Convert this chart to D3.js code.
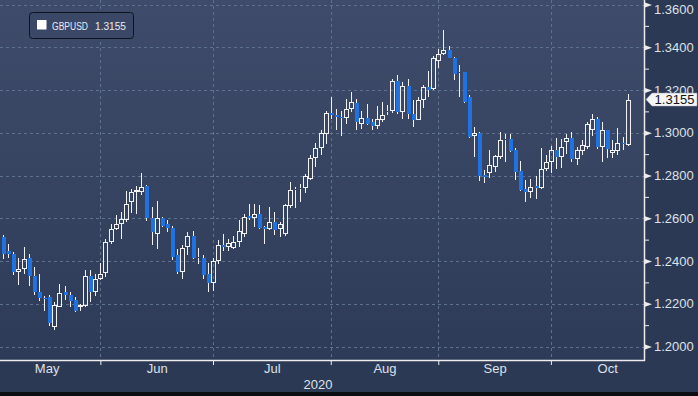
<!DOCTYPE html>
<html>
<head>
<meta charset="utf-8">
<title>GBPUSD</title>
<script src="https://cdn.jsdelivr.net/npm/d3@7"></script>
<style>
  body { margin: 0; background: #2c3955; }
  svg { display: block; font-family: "Liberation Sans", Arial, sans-serif; }
</style>
</head>
<body>
<svg id="chart" width="698" height="396"></svg>
<script>
// daily candles, 4 May 2020 -> 21 Oct 2020 (weekdays)
var startDate = new Date(2020, 4, 4), endDate = new Date(2020, 9, 21);

var open = [
  1.2512,1.2446,1.2434,1.2348,1.2361,1.2413,1.2332,1.2257,1.2226,1.2231,1.2090,1.2187,1.2254,1.2243,1.2218,1.2187,1.2189,1.2332,1.2255,1.2317,
  1.2343,1.2488,1.2551,1.2574,1.2590,1.2675,1.2722,1.2725,1.2749,1.2602,1.2524,1.2602,1.2571,1.2556,1.2426,1.2348,1.2465,1.2519,1.2413,1.2415,1.2340,1.2297,
  1.2402,1.2473,1.2465,1.2462,1.2488,1.2527,1.2610,1.2601,1.2621,1.2558,1.2551,1.2582,1.2551,1.2527,1.2655,1.2730,1.2735,1.2743,1.2785,1.2883,1.2930,1.2995,1.3094,
  1.3081,1.3076,1.3070,1.3112,1.3140,1.3042,1.3070,1.3050,1.3030,1.3061,1.3097,1.3101,1.3240,1.3097,1.3217,1.3086,1.3061,1.3151,1.3214,1.3206,1.3335,
  1.3370,1.3385,1.3352,1.3278,1.3282,1.3168,1.2983,1.3000,1.2804,1.2811,1.2842,1.2886,1.2964,1.2972,1.2921,1.2820,1.2735,1.2725,1.2750,1.2743,1.2832,1.2863,
  1.2921,1.2886,1.2956,1.2977,1.2875,1.2914,1.2933,1.3011,1.3066,1.2933,1.3011,1.2905,1.2914,1.2951,1.2945
];
var high = [
  1.2520,1.2481,1.2442,1.2414,1.2465,1.2434,1.2374,1.2340,1.2238,1.2239,1.2207,1.2293,1.2285,1.2254,1.2231,1.2200,1.2359,1.2356,1.2340,1.2390,
  1.2501,1.2574,1.2613,1.2629,1.2727,1.2738,1.2753,1.2813,1.2757,1.2652,1.2683,1.2605,1.2590,1.2566,1.2457,1.2473,1.2535,1.2540,1.2462,1.2426,1.2390,1.2415,
  1.2496,1.2527,1.2504,1.2519,1.2590,1.2621,1.2668,1.2668,1.2663,1.2566,1.2652,1.2629,1.2582,1.2668,1.2769,1.2745,1.2761,1.2805,1.2894,1.2951,1.3014,1.3101,1.3167,
  1.3112,1.3104,1.3159,1.3190,1.3159,1.3104,1.3133,1.3066,1.3123,1.3143,1.3128,1.3253,1.3268,1.3237,1.3253,1.3151,1.3167,1.3222,1.3288,1.3357,1.3393,
  1.3482,1.3405,1.3355,1.3319,1.3282,1.3176,1.3026,1.3003,1.2824,1.2917,1.2898,1.3003,1.2994,1.2994,1.2930,1.2867,1.2777,1.2785,1.2799,1.2930,1.2898,1.2940,
  1.2977,1.2973,1.2996,1.3003,1.2933,1.2967,1.3050,1.3086,1.3073,1.3050,1.3014,1.2964,1.3023,1.2980,1.3180
];
var low = [
  1.2411,1.2414,1.2333,1.2289,1.2340,1.2281,1.2239,1.2212,1.2164,1.2098,1.2075,1.2184,1.2218,1.2184,1.2161,1.2168,1.2184,1.2207,1.2234,1.2309,
  1.2324,1.2481,1.2543,1.2501,1.2582,1.2624,1.2618,1.2707,1.2585,1.2473,1.2457,1.2558,1.2535,1.2403,1.2340,1.2317,1.2426,1.2410,1.2387,1.2314,1.2257,1.2259,
  1.2387,1.2449,1.2449,1.2457,1.2465,1.2512,1.2590,1.2558,1.2551,1.2481,1.2543,1.2523,1.2512,1.2519,1.2649,1.2649,1.2675,1.2717,1.2777,1.2839,1.2894,1.2949,1.3066,
  1.3011,1.2987,1.3042,1.3097,1.3011,1.3019,1.3034,1.3011,1.3019,1.3050,1.3081,1.3092,1.3089,1.3066,1.3066,1.3026,1.3058,1.3117,1.3167,1.3198,1.3304,
  1.3362,1.3349,1.3246,1.3168,1.3141,1.2975,1.2886,1.2774,1.2764,1.2790,1.2815,1.2878,1.2863,1.2909,1.2781,1.2727,1.2676,1.2696,1.2690,1.2738,1.2822,1.2810,
  1.2831,1.2837,1.2902,1.2863,1.2848,1.2894,1.2925,1.2987,1.2925,1.2864,1.2883,1.2880,1.2897,1.2917,1.2940
];
var close = [
  1.2434,1.2431,1.2348,1.2361,1.2411,1.2328,1.2254,1.2226,1.2222,1.2109,1.2192,1.2251,1.2239,1.2215,1.2168,1.2192,1.2332,1.2257,1.2317,1.2340,
  1.2491,1.2551,1.2574,1.2597,1.2668,1.2722,1.2730,1.2746,1.2600,1.2535,1.2602,1.2566,1.2554,1.2421,1.2348,1.2462,1.2519,1.2413,1.2417,1.2336,1.2297,1.2402,
  1.2473,1.2465,1.2484,1.2491,1.2540,1.2608,1.2601,1.2621,1.2555,1.2551,1.2582,1.2546,1.2571,1.2660,1.2730,1.2738,1.2743,1.2796,1.2883,1.2930,1.2998,1.3094,1.3085,
  1.3073,1.3070,1.3112,1.3143,1.3050,1.3070,1.3042,1.3030,1.3066,1.3084,1.3104,1.3240,1.3097,1.3217,1.3086,1.3058,1.3151,1.3214,1.3201,1.3351,1.3370,
  1.3385,1.3351,1.3277,1.3282,1.3144,1.2980,1.3000,1.2800,1.2792,1.2847,1.2889,1.2967,1.2972,1.2914,1.2816,1.2733,1.2725,1.2746,1.2743,1.2832,1.2863,1.2921,
  1.2886,1.2933,1.2977,1.2875,1.2917,1.2941,1.3039,1.3066,1.2933,1.3011,1.2925,1.2917,1.2951,1.2949,1.3155
];

var yTicks = [1.20, 1.22, 1.24, 1.26, 1.28, 1.30, 1.32, 1.34, 1.36];
var yMinor = [1.21, 1.23, 1.25, 1.27, 1.29, 1.31, 1.33, 1.35];
var monthNames = ["May", "Jun", "Jul", "Aug", "Sep", "Oct"];
var yearLabel = "2020";
var ticker = "GBPUSD";
var lastPrice = 1.3155;

var isWeekday = function(d) { return d.getDay() % 6 !== 0; };
var dates = d3.timeDay.range(startDate, d3.timeDay.offset(endDate, 1)).filter(isWeekday);

// signed number of weekdays between startDate and d
function tradingIndex(d) {
    if (d >= startDate) return d3.timeDay.range(startDate, d).filter(isWeekday).length;
    return -d3.timeDay.range(d, startDate).filter(isWeekday).length;
}
var months = monthNames.map(function(m, k) {
    var first = new Date(2020, 4 + k, 1), next = new Date(2020, 5 + k, 1);
    var firstDay = first;
    while (!isWeekday(firstDay)) firstDay = d3.timeDay.offset(firstDay, 1);
    var n = d3.timeDay.range(first, next).filter(isWeekday).length;
    var fi = tradingIndex(firstDay);
    return { name: m, boundary: fi - 1, center: fi - 1 + n / 2 };
});

var plotR = 644, plotB = 360;

var svg = d3.select("#chart");
var defs = svg.append("defs");
var grad = defs.append("linearGradient").attr("id", "bg").attr("x1", 0).attr("y1", 0).attr("x2", 0).attr("y2", 1);
grad.append("stop").attr("offset", "0%").attr("stop-color", "#3e4b6a");
grad.append("stop").attr("offset", "100%").attr("stop-color", "#2e3b58");
defs.append("clipPath").attr("id", "clip").append("rect")
    .attr("x", 0).attr("y", 0).attr("width", plotR).attr("height", plotB);

svg.append("rect").attr("width", 698).attr("height", 396).attr("fill", "#2c3955");
svg.append("rect").attr("width", plotR).attr("height", plotB).attr("fill", "url(#bg)");
svg.append("rect").attr("x", 0).attr("y", 392).attr("width", 698).attr("height", 4).attr("fill", "#0b0d12");

var x = d3.scaleLinear().domain([0, dates.length - 1]).range([3.1, 627.7]);
var y = d3.scaleLinear().domain([1.20, 1.36]).range([346.5, 4.5]);

// grid
var grid = svg.append("g").attr("stroke", "#5f7191").attr("stroke-dasharray", "3,3").attr("stroke-width", 1);
grid.selectAll(".h").data(yTicks).enter().append("line")
    .attr("x1", 0).attr("x2", plotR)
    .attr("y1", function(d) { return Math.round(y(d)) + 0.5; })
    .attr("y2", function(d) { return Math.round(y(d)) + 0.5; });
grid.selectAll(".v").data(months.slice(1)).enter().append("line")
    .attr("y1", 0).attr("y2", plotB)
    .attr("x1", function(d) { return Math.round(x(d.boundary)) + 0.5; })
    .attr("x2", function(d) { return Math.round(x(d.boundary)) + 0.5; });

// candles
var candles = svg.append("g").attr("clip-path", "url(#clip)").attr("shape-rendering", "crispEdges");
var idx = d3.range(dates.length);
var cg = candles.selectAll("g.c").data(idx).enter().append("g");
cg.each(function(i) {
    var g = d3.select(this);
    var p = Math.round(x(i));
    var up = close[i] >= open[i];
    var top = Math.round(y(Math.max(open[i], close[i])));
    var bot = Math.round(y(Math.min(open[i], close[i])));
    if (bot - top < 1) bot = top + 1;
    g.append("line").attr("x1", p + 0.5).attr("x2", p + 0.5)
        .attr("y1", Math.round(y(high[i]))).attr("y2", top)
        .attr("stroke", "#f2f2f2");
    g.append("line").attr("x1", p + 0.5).attr("x2", p + 0.5)
        .attr("y1", bot).attr("y2", Math.round(y(low[i])))
        .attr("stroke", "#f2f2f2");
    if (up) {
        g.append("rect").attr("x", p - 1.5).attr("y", top + 0.5)
            .attr("width", 4).attr("height", Math.max(bot - top - 1, 0))
            .attr("fill", "none").attr("stroke", "#f2f2f2");
    } else {
        g.append("rect").attr("x", p - 1.5).attr("y", top)
            .attr("width", 4.5).attr("height", bot - top)
            .attr("fill", "#1f72e0");
    }
});

// axis lines
svg.append("line").attr("x1", plotR + 0.5).attr("x2", plotR + 0.5).attr("y1", 0).attr("y2", plotB + 1)
    .attr("stroke", "#ececec").attr("stroke-width", 1.5);
svg.append("line").attr("x1", 0).attr("x2", plotR + 1).attr("y1", plotB + 0.5).attr("y2", plotB + 0.5)
    .attr("stroke", "#ececec").attr("stroke-width", 1.5);

// right axis
var yAxis = svg.append("g").attr("transform", "translate(" + plotR + ",0)")
    .call(d3.axisRight(y).tickValues(yTicks).tickSize(0).tickPadding(10).tickFormat(d3.format(".4f")));
yAxis.select(".domain").remove();
yAxis.selectAll("text").attr("fill", "#dde1e8").style("font-size", "13px").style("font-family", "Liberation Sans, Arial, sans-serif")
    .attr("y", function(d) { return Math.max(0, 9 - y(d)); });
yAxis.selectAll(".tick").append("path").attr("d", "M1,-2.5L8,0L1,2.5Z").attr("fill", "#ececec");

var yMinorAxis = svg.append("g").attr("transform", "translate(" + plotR + ",0)")
    .call(d3.axisRight(y).tickValues(yMinor).tickSize(5).tickFormat(""));
yMinorAxis.select(".domain").remove();
yMinorAxis.selectAll("line").attr("stroke", "#ececec");

// bottom axis: month boundaries and labels
var xTicks = svg.append("g").attr("transform", "translate(0," + plotB + ")")
    .call(d3.axisBottom(x).tickValues(months.slice(1).map(function(m) { return m.boundary; })).tickSize(5).tickFormat(""));
xTicks.select(".domain").remove();
xTicks.selectAll("line").attr("stroke", "#ececec");

var xLabels = svg.append("g").attr("transform", "translate(0," + plotB + ")")
    .call(d3.axisBottom(x).tickValues(months.map(function(m) { return m.center; })).tickSize(0).tickPadding(4)
        .tickFormat(function(d, i) { return monthNames[i]; }));
xLabels.select(".domain").remove();
xLabels.selectAll("text").attr("fill", "#dde1e8").style("font-size", "13px").style("font-family", "Liberation Sans, Arial, sans-serif");

svg.append("text").attr("x", 318).attr("y", 389).attr("text-anchor", "middle")
    .attr("fill", "#dde1e8").style("font-size", "13px").text(yearLabel);

// last price tag
var ly = y(lastPrice);
svg.append("path")
    .attr("d", "M" + (plotR + 2) + "," + ly + "L" + (plotR + 8) + "," + (ly - 6.5) + "H697V" + (ly + 6.5) + "H" + (plotR + 8) + "Z")
    .attr("fill", "#f5f5f5").attr("stroke", "#9aa3b5").attr("stroke-width", 0.5);
svg.append("text").attr("x", 674.5).attr("y", ly).attr("dy", "0.36em").attr("text-anchor", "middle")
    .attr("fill", "#141414").style("font-size", "13px").text(d3.format(".4f")(lastPrice));

// legend
var leg = svg.append("g");
leg.append("rect").attr("x", 29.5).attr("y", 12.5).attr("width", 104).attr("height", 26).attr("rx", 3)
    .attr("fill", "#3a4766").attr("stroke", "#0e1320").attr("stroke-width", 1);
leg.append("rect").attr("x", 37).attr("y", 20).attr("width", 9.5).attr("height", 9.5).attr("fill", "#ffffff");
leg.append("text").attr("x", 52).attr("y", 29.5).attr("fill", "#e8ebf0").style("font-size", "10px")
    .attr("textLength", 36).attr("lengthAdjust", "spacingAndGlyphs").text(ticker);
leg.append("text").attr("x", 95).attr("y", 29.5).attr("fill", "#e8ebf0").style("font-size", "10px")
    .attr("textLength", 31).attr("lengthAdjust", "spacingAndGlyphs").text(d3.format(".4f")(lastPrice));
</script>
</body>
</html>
